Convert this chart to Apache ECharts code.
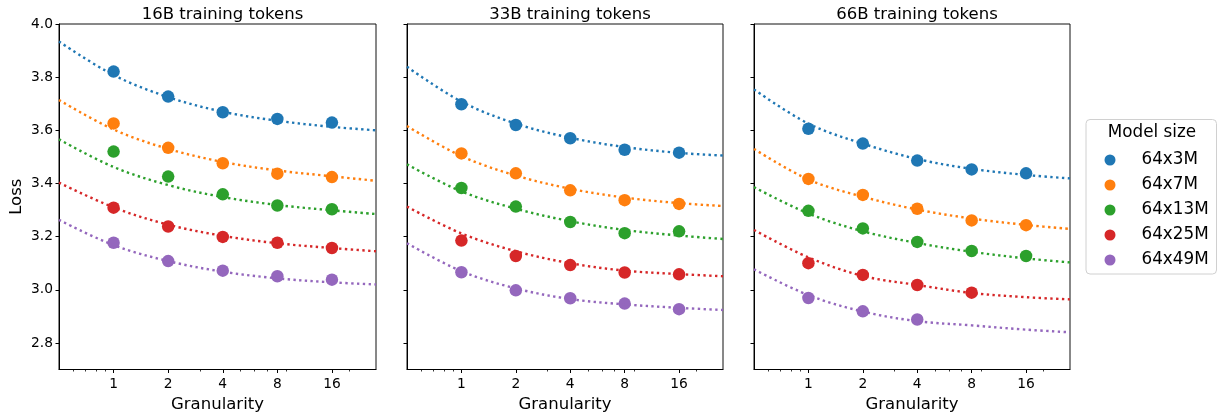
<!DOCTYPE html>
<html><head><meta charset="utf-8">
<script src="https://cdn.jsdelivr.net/npm/echarts@6/dist/echarts.min.js"></script>
<style>html,body{margin:0;padding:0;background:#fff}#c{width:1220px;height:415px}</style>
</head><body><div id="c"></div>
<script>
const panelTitles = ['16B training tokens', '33B training tokens', '66B training tokens'];
const modelNames = ['64x3M', '64x7M', '64x13M', '64x25M', '64x49M'];
const colors = ['#1f77b4', '#ff7f0e', '#2ca02c', '#d62728', '#9467bd'];
const granularity = [1, 2, 4, 8, 16];
const xTickLabels = [1, 2, 4, 8, 16];
const minorTickValues = [0.6, 0.7, 0.8, 0.9, 3, 5, 6, 7, 9, 20];
const yTickValues = [2.8, 3.0, 3.2, 3.4, 3.6, 3.8, 4.0];
const fitX = [0.5, 1, 2, 4, 8, 16, 28];

// measured points, one row per model size (granularity 1,2,4,8,16)
const points16B = [
  [3.821, 3.727, 3.668, 3.643, 3.629],
  [3.626, 3.534, 3.476, 3.437, 3.424],
  [3.520, 3.426, 3.359, 3.317, 3.303],
  [3.309, 3.238, 3.199, 3.177, 3.157],
  [3.177, 3.108, 3.072, 3.051, 3.038]
];
const points33B = [
  [3.698, 3.620, 3.570, 3.527, 3.516],
  [3.513, 3.438, 3.374, 3.337, 3.323],
  [3.383, 3.313, 3.255, 3.213, 3.220],
  [3.185, 3.127, 3.093, 3.065, 3.058],
  [3.066, 2.998, 2.968, 2.948, 2.927]
];
const points66B = [
  [3.606, 3.550, 3.486, 3.453, 3.438],
  [3.417, 3.357, 3.305, 3.261, 3.243],
  [3.297, 3.231, 3.180, 3.146, 3.127],
  [3.100, 3.056, 3.018, 2.989, null],
  [2.969, 2.919, 2.888, null, null]
];
// dotted fitted curves read at fitX
const fit16B = [
  [3.934, 3.808, 3.725, 3.670, 3.636, 3.613, 3.600],
  [3.714, 3.603, 3.530, 3.481, 3.449, 3.427, 3.410],
  [3.566, 3.462, 3.394, 3.349, 3.319, 3.299, 3.285],
  [3.403, 3.310, 3.245, 3.203, 3.175, 3.157, 3.145],
  [3.263, 3.168, 3.108, 3.068, 3.043, 3.028, 3.020]
];
const fit33B = [
  [3.839, 3.708, 3.625, 3.572, 3.537, 3.515, 3.505],
  [3.616, 3.503, 3.430, 3.380, 3.347, 3.326, 3.315],
  [3.472, 3.370, 3.305, 3.258, 3.225, 3.204, 3.191],
  [3.313, 3.212, 3.145, 3.100, 3.072, 3.059, 3.051],
  [3.175, 3.070, 3.005, 2.965, 2.945, 2.932, 2.924]
];
const fit66B = [
  [3.754, 3.625, 3.550, 3.492, 3.455, 3.432, 3.419],
  [3.530, 3.415, 3.350, 3.302, 3.268, 3.244, 3.229],
  [3.386, 3.287, 3.220, 3.176, 3.143, 3.118, 3.103],
  [3.225, 3.122, 3.052, 3.018, 2.988, 2.972, 2.964],
  [3.077, 2.980, 2.918, 2.882, 2.866, 2.850, 2.840]
];

const allPoints = [points16B, points33B, points66B];
const allFits = [fit16B, fit33B, fit66B];

const FONT = 'DejaVu Sans';
const LABEL_SIZE = 16.5, TICK_SIZE = 13.8, LEGEND_SIZE = 16.8;
const panels = [{ left: 59, width: 317 }, { left: 407, width: 316 }, { left: 754, width: 316 }];
const TOP = 24, HEIGHT = 345.5;

const grids = [], xAxes = [], yAxes = [], titles = [], series = [];
const isLabel = v => xTickLabels.some(t => Math.abs(t - v) < 1e-6);

panels.forEach((p, i) => {
  grids.push({ left: p.left, top: TOP, width: p.width, height: HEIGHT, show: true,
    containLabel: false, outerBoundsMode: 'none',
    borderColor: '#111', borderWidth: 1, backgroundColor: 'transparent' });
  titles.push({ text: panelTitles[i], left: p.left + p.width / 2, top: 1, textAlign: 'center',
    textStyle: { fontFamily: FONT, fontSize: LABEL_SIZE, fontWeight: 'normal', color: '#000' } });
  xAxes.push({ type: 'log', logBase: 2, gridIndex: i, min: 0.5, max: 28, position: 'bottom',
    name: 'Granularity', nameLocation: 'middle', nameGap: 25,
    nameTextStyle: { fontFamily: FONT, fontSize: LABEL_SIZE, color: '#000' },
    axisLine: { show: true, lineStyle: { color: '#000', width: 1 } },
    axisTick: { show: true, length: 3.5, lineStyle: { color: '#000' } },
    splitLine: { show: false }, minorTick: { show: false },
    axisLabel: { fontFamily: FONT, fontSize: TICK_SIZE, color: '#000', margin: 8,
      showMinLabel: false, showMaxLabel: false,
      formatter: v => isLabel(v) ? String(Math.round(v)) : '' } });
  yAxes.push({ type: 'value', gridIndex: i, min: 2.7, max: 4.0,
    name: i === 0 ? 'Loss' : '', nameLocation: 'middle', nameGap: 34, nameRotate: 90,
    nameTextStyle: { fontFamily: FONT, fontSize: LABEL_SIZE, color: '#000' },
    axisLine: { show: true, lineStyle: { color: '#000', width: 1 } },
    axisTick: { show: true, length: 3.5, customValues: yTickValues, lineStyle: { color: '#000' } },
    splitLine: { show: false },
    axisLabel: { show: i === 0, customValues: yTickValues, fontFamily: FONT, fontSize: TICK_SIZE, color: '#000', margin: 6,
      formatter: v => v.toFixed(1) } });
});
// minor ticks (log10 style) on extra x axes
panels.forEach((p, i) => {
  xAxes.push({ type: 'log', logBase: 2, gridIndex: i, min: 0.5, max: 28, position: 'bottom',
    axisLine: { show: false }, splitLine: { show: false }, axisLabel: { show: false },
    axisTick: { show: true, length: 2, customValues: minorTickValues, lineStyle: { color: '#000', width: 0.8 } } });
});

allPoints.forEach((pts, pi) => {
  pts.forEach((row, m) => {
    series.push({ type: 'scatter', name: modelNames[m], xAxisIndex: pi, yAxisIndex: pi,
      symbolSize: 12.5, itemStyle: { color: colors[m], opacity: 1 }, z: 2,
      data: granularity.map((g, k) => [g, row[k]]).filter(d => d[1] != null) });
  });
});
allFits.forEach((fits, pi) => {
  fits.forEach((row, m) => {
    series.push({ type: 'line', name: modelNames[m] + ' fit', xAxisIndex: pi, yAxisIndex: pi,
      smooth: 0.35, showSymbol: false, symbol: 'none', silent: true, z: 3,
      lineStyle: { color: colors[m], width: 2.4, type: [2.4, 3.4], cap: 'butt' },
      data: fitX.map((x, k) => [x, row[k]]) });
  });
});

const chart = echarts.init(document.getElementById('c'), null, { renderer: 'canvas' });
chart.setOption({
  animation: false,
  backgroundColor: '#fff',
  title: titles,
  grid: grids,
  xAxis: xAxes,
  yAxis: yAxes,
  legend: { data: modelNames, orient: 'vertical', left: 1104.5, top: 151.5, padding: 0,
    itemWidth: 11, itemHeight: 11, itemGap: 8, icon: 'circle',
    textStyle: { fontFamily: FONT, fontSize: LEGEND_SIZE, color: '#000', padding: [0, 0, 0, 21] } },
  graphic: [
    { type: 'rect', x: 1086, y: 119.5, z: -1,
      shape: { x: 0, y: 0, width: 130.5, height: 154.5, r: 4 }, style: { fill: '#fff', stroke: '#d0d0d0', lineWidth: 1 } },
    { type: 'text', x: 1152, y: 133, z: 10, style: { text: 'Model size',
      align: 'center', verticalAlign: 'middle', font: LEGEND_SIZE + 'px "DejaVu Sans"', fill: '#000' } }
  ],
  series: series
});
</script></body></html>
